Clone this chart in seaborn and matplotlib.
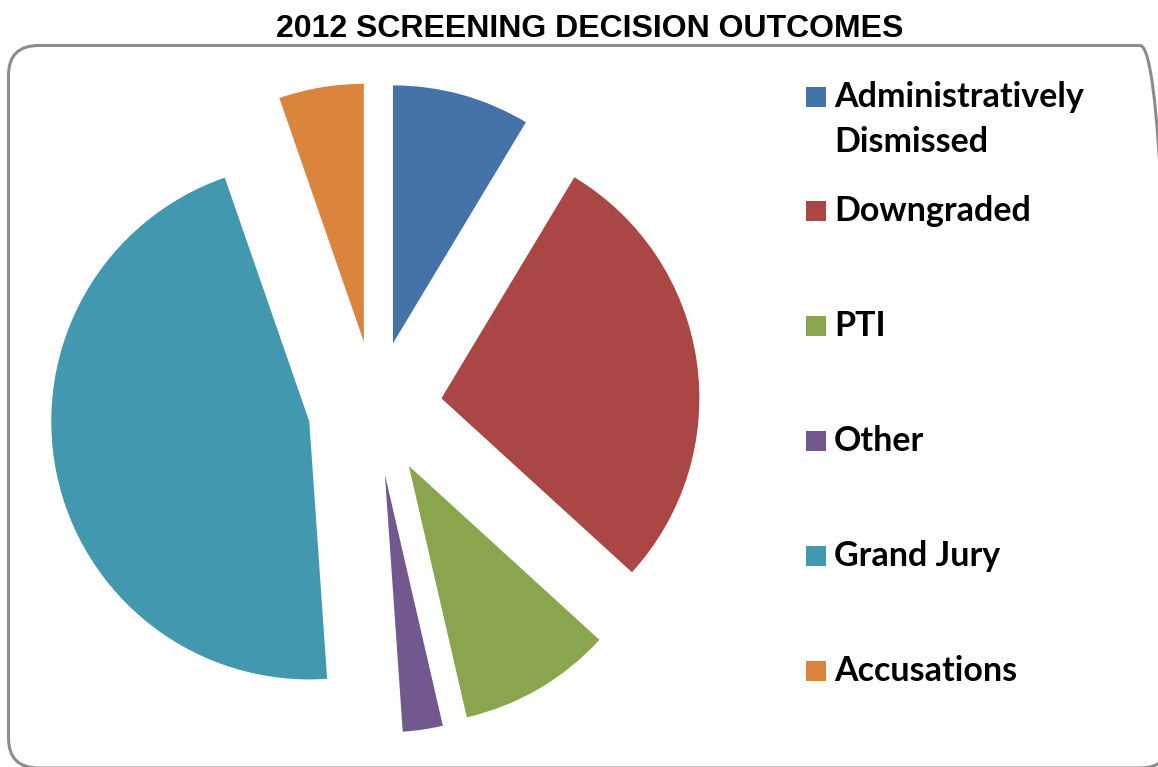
import matplotlib
matplotlib.use("Agg")
import matplotlib.pyplot as plt
from matplotlib.patches import FancyBboxPatch, Rectangle
import seaborn as sns

sns.set_theme(style="white")

categories = ["Administratively\nDismissed", "Downgraded", "PTI", "Other", "Grand Jury", "Accusations"]
values = [8.6, 28.1, 9.6, 2.5, 45.7, 5.3]
colors = ["#4572A7", "#AA4643", "#89A54E", "#71588F", "#4198AF", "#DB843D"]
title = "2012 SCREENING DECISION OUTCOMES"

W, H = 1158, 767
fig = plt.figure(figsize=(W / 100, H / 100), dpi=100)
fig.patch.set_facecolor("white")

# pie axes: 1 data unit = 258 px in both directions
R = 258.0
cx, cy = 375.0, 408.0
ax = fig.add_axes([0, 0, 1, 1])
ax.pie(values, colors=colors, startangle=90, counterclock=False,
       explode=[0.26] * len(values), radius=1.0,
       wedgeprops=dict(linewidth=0))
ax.set_aspect("auto")
ax.set_xlim(-cx / R, (W - cx) / R)
ax.set_ylim(-(H - cy) / R, cy / R)
ax.axis("off")
ax.patch.set_alpha(0)

# rounded border (pixel-based, drawn in the equal-scale axes)
x0, x1 = 8.5, 1170.0
top, bot = 45.5, 768.0
border = FancyBboxPatch(((x0 - cx) / R, (cy - bot) / R), (x1 - x0) / R, (bot - top) / R,
                        boxstyle="round,pad=0,rounding_size=%f" % (30 / R),
                        facecolor="none", edgecolor="#8c8c8c", linewidth=2.2,
                        zorder=0, clip_on=False)
ax.add_patch(border)

fig.text(590 / W, 1 - 29 / H, title, ha="center", va="center", color="black",
         fontsize=23, fontweight="bold", family="Liberation Sans")

# legend
ys = [97, 211, 326, 441, 556, 671]
for lab, col, y in zip(categories, colors, ys):
    fig.patches.append(Rectangle((806 / W, 1 - (y + 10) / H), 20 / W, 20 / H,
                                 transform=fig.transFigure, facecolor=col,
                                 edgecolor="none"))
    for i, line in enumerate(lab.split("\n")):
        fig.text(834 / W, 1 - (y + 10 + 45 * i) / H, line, ha="left", va="baseline",
                 color="black", fontsize=24.5, fontweight="bold", family="Lato")

fig.savefig("out.png", dpi=100, facecolor="white")
